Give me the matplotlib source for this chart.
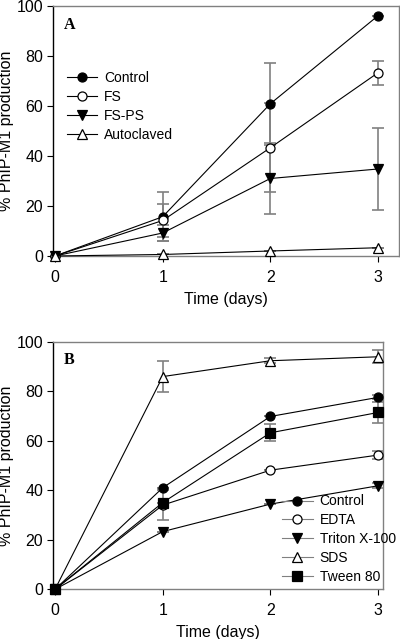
import matplotlib
matplotlib.use("Agg")
import matplotlib.pyplot as plt

plt.rcParams["font.family"] = ["Liberation Sans", "DejaVu Sans"]

days = [0, 1, 2, 3]

# Panel A
a_labels = ["Control", "FS", "FS-PS", "Autoclaved"]
a_control = [0, 15.7, 60.9, 96.1]
a_control_err = [0, 9.8, 16.4, 0]
a_fs = [0, 14.2, 43.3, 73.3]
a_fs_err = [0, 6.5, 17.8, 4.9]
a_fsps = [0, 9.2, 31.0, 34.8]
a_fsps_err = [0, 3.2, 14.2, 16.3]
a_auto = [0, 0.6, 2.0, 3.3]
a_auto_err = [0, 0, 0, 0]

# Panel B
b_labels = ["Control", "EDTA", "Triton X-100", "SDS", "Tween 80"]
b_control = [0, 41.0, 69.8, 77.5]
b_control_err = [0, 0, 0, 0.8]
b_edta = [0, 34.0, 48.1, 54.2]
b_edta_err = [0, 6.0, 0, 1.5]
b_triton = [0, 23.3, 34.4, 41.8]
b_triton_err = [0, 0, 0, 1.0]
b_sds = [0, 85.9, 92.3, 93.9]
b_sds_err = [0, 6.4, 1.0, 2.6]
b_tween = [0, 35.0, 63.2, 71.4]
b_tween_err = [0, 0, 3.5, 4.2]

STYLE = {
    "filled_circle": dict(marker="o", mfc="black"),
    "open_circle": dict(marker="o", mfc="white"),
    "filled_tri": dict(marker="v", mfc="black"),
    "open_tri": dict(marker="^", mfc="white"),
    "filled_square": dict(marker="s", mfc="black"),
}
GREY = "#808080"


def draw_series(ax, y, err, label, style):
    ax.errorbar(days, y, yerr=err, fmt="none", ecolor=GREY, elinewidth=1.2,
                capsize=4, capthick=1.2, zorder=2)
    ax.plot(days, y, color="black", lw=0.8, mec="black", ms=6.5, mew=0.9,
            label=label, zorder=3, clip_on=False, **style)


def style_axes(ax, right, letter):
    ax.set_xlim(-0.019, right)
    ax.set_ylim(0, 100)
    ax.set_xticks(days)
    ax.set_yticks([0, 20, 40, 60, 80, 100])
    ax.tick_params(direction="out", length=4, width=0.8, labelsize=11.5,
                   top=False, right=False)
    ax.tick_params(axis="x", pad=6)
    ax.tick_params(axis="y", pad=3)
    for name, s in ax.spines.items():
        s.set_color("black" if name == "left" else GREY)
        s.set_linewidth(1.0)
    ax.set_xlabel("Time (days)", fontsize=11.5, labelpad=5)
    ax.set_ylabel("% PhIP-M1 production", fontsize=11.5, labelpad=2)
    ax.text(0.08, 92.5, letter, fontsize=11.5, fontweight="bold",
            family="Liberation Serif", va="center")


fig = plt.figure(figsize=(4.0, 6.39), dpi=100)
ax1 = fig.add_axes([0.1325, 0.5994, 0.865, 0.3912])
ax2 = fig.add_axes([0.1325, 0.0778, 0.825, 0.3875])

draw_series(ax1, a_control, a_control_err, a_labels[0], STYLE["filled_circle"])
draw_series(ax1, a_fs, a_fs_err, a_labels[1], STYLE["open_circle"])
draw_series(ax1, a_fsps, a_fsps_err, a_labels[2], STYLE["filled_tri"])
draw_series(ax1, a_auto, a_auto_err, a_labels[3], STYLE["open_tri"])
style_axes(ax1, 3.195, "A")
ax1.legend(loc="upper left", bbox_to_anchor=(0.040, 0.742), frameon=False,
           fontsize=10, handlelength=2.2, handletextpad=0.5, labelspacing=0.37,
           borderaxespad=0, borderpad=0)

draw_series(ax2, b_control, b_control_err, b_labels[0], STYLE["filled_circle"])
draw_series(ax2, b_edta, b_edta_err, b_labels[1], STYLE["open_circle"])
draw_series(ax2, b_triton, b_triton_err, b_labels[2], STYLE["filled_tri"])
draw_series(ax2, b_sds, b_sds_err, b_labels[3], STYLE["open_tri"])
draw_series(ax2, b_tween, b_tween_err, b_labels[4], STYLE["filled_square"])
style_axes(ax2, 3.046, "B")
leg = ax2.legend(loc="lower left", bbox_to_anchor=(0.694, 0.021), frameon=False,
                 fontsize=10, handlelength=2.2, handletextpad=0.5,
                 labelspacing=0.355, borderaxespad=0, borderpad=0)
for h in leg.legend_handles:
    h.set_color(GREY)
    h.set_markeredgecolor("black")

fig.savefig("out.png", dpi=100)
